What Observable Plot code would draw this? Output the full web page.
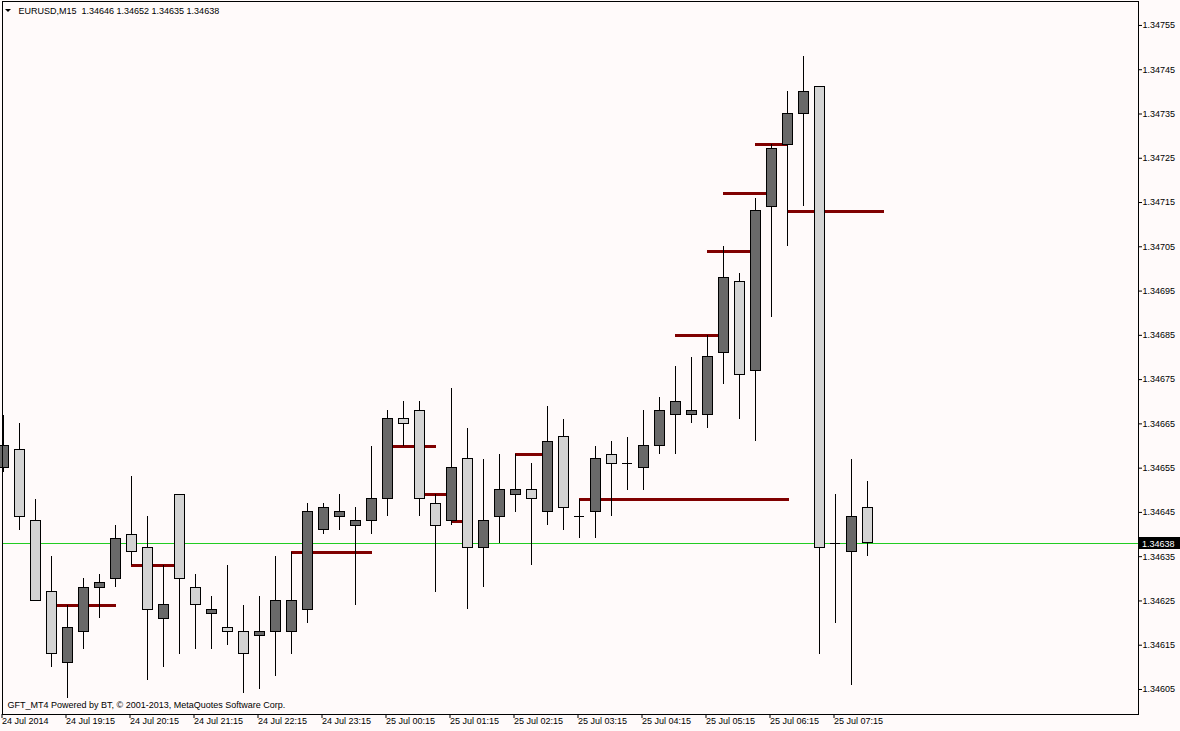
<!DOCTYPE html>
<html><head><meta charset="utf-8">
<script src="https://cdn.jsdelivr.net/npm/d3@7"></script>
<script src="https://cdn.jsdelivr.net/npm/@observablehq/plot@0.6"></script>
<style>
html,body{margin:0;padding:0;background:#fffafa;}
#chart svg{display:block;}
</style></head><body><div id="chart"></div>
<script>
// EURUSD M15 candles, 24 Jul 2014 18:15 ... 25 Jul 2014 07:45
const opens  = [1.34655,1.34659,1.34643,1.34627,1.34611,1.34618,1.34628,1.34630,1.34640,1.34637,
                1.34621,1.34649,1.34628,1.34622,1.34619,1.34618,1.34617,1.34618,1.34618,1.34623,
                1.34641,1.34644,1.34642,1.34643,1.34648,1.34666,1.34668,1.34647,1.34643,1.34657,
                1.34637,1.34644,1.34649,1.34650,1.34645,1.34662,1.34644,1.34645,1.34658,1.34656,
                1.34655,1.34660,1.34667,1.34667,1.34667,1.34681,1.34697,1.34677,1.34714,1.34728,
                1.34735,1.34741,1.34638,1.34636,1.34646];
const highs  = [1.34667,1.34665,1.34648,1.34635,1.34624,1.34630,1.34631,1.34642,1.34653,1.34644,
                1.34633,1.34649,1.34631,1.34626,1.34633,1.34624,1.34626,1.34635,1.34636,1.34647,
                1.34647,1.34649,1.34646,1.34660,1.34668,1.34670,1.34670,1.34649,1.34673,1.34664,
                1.34657,1.34658,1.34658,1.34656,1.34669,1.34666,1.34648,1.34660,1.34661,1.34662,
                1.34668,1.34671,1.34678,1.34680,1.34685,1.34705,1.34699,1.34716,1.34728,1.34740,
                1.34748,1.34741,1.34649,1.34657,1.34652];
const lows   = [1.34654,1.34641,1.34625,1.34610,1.34603,1.34614,1.34621,1.34628,1.34633,1.34607,
                1.34610,1.34613,1.34614,1.34614,1.34615,1.34604,1.34605,1.34608,1.34613,1.34620,
                1.34640,1.34641,1.34624,1.34640,1.34644,1.34660,1.34644,1.34627,1.34642,1.34623,
                1.34628,1.34638,1.34645,1.34633,1.34642,1.34641,1.34639,1.34639,1.34644,1.34650,
                1.34650,1.34658,1.34658,1.34665,1.34664,1.34674,1.34666,1.34661,1.34689,1.34705,
                1.34714,1.34613,1.34620,1.34606,1.34635];
const closes = [1.34660,1.34644,1.34625,1.34613,1.34619,1.34628,1.34629,1.34639,1.34636,1.34623,
                1.34624,1.34630,1.34624,1.34623,1.34618,1.34613,1.34618,1.34625,1.34625,1.34645,
                1.34646,1.34645,1.34643,1.34648,1.34666,1.34665,1.34648,1.34642,1.34655,1.34637,
                1.34643,1.34650,1.34650,1.34648,1.34661,1.34646,1.34644,1.34657,1.34656,1.34656,
                1.34660,1.34668,1.34670,1.34668,1.34680,1.34698,1.34676,1.34713,1.34727,1.34735,
                1.34740,1.34637,1.34638,1.34644,1.34638];

// horizontal level segments (price, from bar index, to bar index)
const levelPrice = [1.34624,1.34633,1.34636,1.34660,1.34649,1.34643,1.34658,1.34648,1.34685,1.34704,1.34717,1.34728,1.34713];
const levelFrom  = [3, 8, 18, 24, 26, 28, 32, 36, 42, 44, 45, 47, 49];
const levelTo    = [7.05, 11, 23.06, 27.06, 28, 29, 34, 49.1, 45, 47, 48, 49, 55.05];

const bid = 1.34638;
const symbol = "EURUSD,M15";
const footer = "GFT_MT4 Powered by BT, \u00a9 2001-2013, MetaQuotes Software Corp.";

const xTickIdx = [0,4,8,12,16,20,24,28,32,36,40,44,48,52];
const xTickLabels = ["24 Jul 2014","24 Jul 19:15","24 Jul 20:15","24 Jul 21:15","24 Jul 22:15","24 Jul 23:15",
  "25 Jul 00:15","25 Jul 01:15","25 Jul 02:15","25 Jul 03:15","25 Jul 04:15","25 Jul 05:15","25 Jul 06:15","25 Jul 07:15"];
const yTicks = [1.34605,1.34615,1.34625,1.34635,1.34645,1.34655,1.34665,1.34675,1.34685,1.34695,1.34705,1.34715,1.34725,1.34735,1.34745,1.34755];

const candles = opens.map((o, i) => ({i, o, h: highs[i], l: lows[i], c: closes[i]}));
const bodies = candles.filter(d => d.o !== d.c);
const dojis = candles.filter(d => d.o === d.c);
const levels = levelPrice.map((p, j) => ({p, x1: levelFrom[j], x2: levelTo[j]}));
const last = candles[candles.length - 1];
const header = `${symbol}  ${last.o.toFixed(5)} ${last.h.toFixed(5)} ${last.l.toFixed(5)} ${last.c.toFixed(5)}`;
const hw = 0.3125; // half body width in bar units
const font = "'Liberation Sans', Arial, sans-serif";

const plot = Plot.plot({
  width: 1180, height: 731,
  marginLeft: 2, marginRight: 42, marginTop: 1, marginBottom: 17,
  style: {background: "#fffafa", fontFamily: font, fontSize: "9px", color: "#000", overflow: "visible"},
  x: {domain: [-0.0625, 70.9375], axis: null},
  y: {domain: [1.3459935, 1.3476041], axis: null},
  color: {type: "identity"},
  marks: [
    Plot.ruleY([bid], {stroke: "#22cc22", shapeRendering: "crispEdges"}),
    Plot.ruleY(levels, {y: "p", x1: "x1", x2: "x2", stroke: "#800000", strokeWidth: 3, shapeRendering: "crispEdges"}),
    Plot.ruleX(candles, {x: "i", y1: "l", y2: "h", stroke: "#000", shapeRendering: "crispEdges"}),
    Plot.rect(bodies, {x1: d => d.i - hw, x2: d => d.i + hw, y1: "o", y2: "c",
      fill: d => d.c > d.o ? "#696969" : "#d3d3d3", stroke: "#000", shapeRendering: "crispEdges"}),
    Plot.ruleY(dojis, {y: "o", x1: d => d.i - hw, x2: d => d.i + hw, stroke: "#000", shapeRendering: "crispEdges"}),
    Plot.axisX({anchor: "bottom", ticks: xTickIdx, tickFormat: d => xTickLabels[xTickIdx.indexOf(d)],
      tickSize: 4, tickPadding: -1, textAnchor: "start", dx: -1.5, fontSize: 9}),
    Plot.axisY({anchor: "right", ticks: yTicks, tickFormat: d => d.toFixed(5), tickSize: 3, tickPadding: 1, fontSize: 9}),
    Plot.frame({stroke: "#000"}),
    Plot.text([header], {frameAnchor: "top-left", dx: 16, dy: 9.3, lineAnchor: "middle", textAnchor: "start", fill: "#000", fontSize: 9}),
    Plot.text([footer], {frameAnchor: "bottom-left", dx: 5, dy: -9, lineAnchor: "middle", textAnchor: "start", fill: "#000", fontSize: 9})
  ]
});

// small menu triangle and current-price label box
const svg = d3.select(plot);
svg.append("path").attr("d", "M5,9L11,9L8,12Z").attr("fill", "#000");
const yb = Math.round(plot.scale("y").apply(bid));
const xr = plot.scale("x").range[1];
svg.append("rect").attr("x", xr + 1).attr("y", yb - 6).attr("width", 1180 - xr - 1).attr("height", 12).attr("fill", "#000");
svg.append("text").attr("x", xr + 4).attr("y", yb + 3.5).attr("fill", "#fff").attr("text-anchor", "start")
  .attr("font-size", 9).attr("font-family", font).text(bid.toFixed(5));

document.getElementById("chart").appendChild(plot);
</script></body></html>
